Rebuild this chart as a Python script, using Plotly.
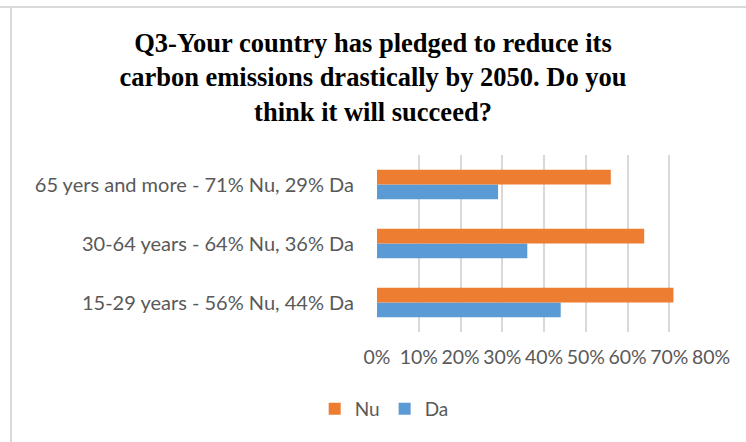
import plotly.graph_objects as go

categories = ["15-29 years - 56% Nu, 44% Da",
              "30-64 years - 64% Nu, 36% Da",
              "65 yers and more - 71% Nu, 29% Da"]
nu_values = [0.71, 0.64, 0.56]
da_values = [0.44, 0.36, 0.29]
tick_vals = [0, 0.1, 0.2, 0.3, 0.4, 0.5, 0.6, 0.7, 0.8]
title_text = ("Q3-Your country has pledged to reduce its<br>"
              "carbon emissions drastically by 2050. Do you<br>"
              "think it will succeed?")

fig = go.Figure()
fig.add_trace(go.Bar(y=categories, x=da_values, name="Da", orientation="h",
                     marker=dict(color="#5B9BD5", line=dict(width=0)), legendrank=2))
fig.add_trace(go.Bar(y=categories, x=nu_values, name="Nu", orientation="h",
                     marker=dict(color="#ED7D31", line=dict(width=0)), legendrank=1))

fig.update_layout(
    width=746, height=442, autosize=False,
    margin=dict(l=377, r=35, t=155, b=110),
    paper_bgcolor="white", plot_bgcolor="white",
    barmode="group", bargap=0.5, bargroupgap=0,
    title=dict(text=title_text, xref="container", x=0.5, xanchor="center",
               yref="container", y=1 - 52 / 442, yanchor="middle",
               font=dict(family="Liberation Serif", size=26.5, color="#000000",
                         weight="bold")),
    font=dict(family="Lato", size=20, color="#595959"),
    legend=dict(orientation="h", xref="container", x=0.515, xanchor="center",
                yref="container", y=1 - 409 / 442, yanchor="middle",
                font=dict(size=19, color="#595959"), itemwidth=30),
    xaxis=dict(range=[0, 0.8], tickvals=tick_vals, tickformat=".0%",
               showgrid=True, gridcolor="#D9D9D9", gridwidth=2,
               zeroline=False, showline=False, ticks="",
               ticklabelstandoff=11, fixedrange=True,
               tickfont=dict(size=19.5)),
    yaxis=dict(showgrid=False, zeroline=False, showline=False, ticks="",
               ticklabelstandoff=22, fixedrange=True),
    shapes=[
        dict(type="line", xref="paper", yref="paper", x0=-377 / 334, x1=(746 - 377) / 334,
             y0=(442 - 110 - 7) / 177, y1=(442 - 110 - 7) / 177,
             line=dict(color="#D9D9D9", width=2)),
        dict(type="line", xref="paper", yref="paper", x0=-366 / 334, x1=-366 / 334,
             y0=-110 / 177, y1=(442 - 110 - 7) / 177,
             line=dict(color="#D9D9D9", width=2)),
    ],
)

fig.write_html("out.html", config={"displayModeBar": False},
               post_script="document.body.style.margin='0';")
